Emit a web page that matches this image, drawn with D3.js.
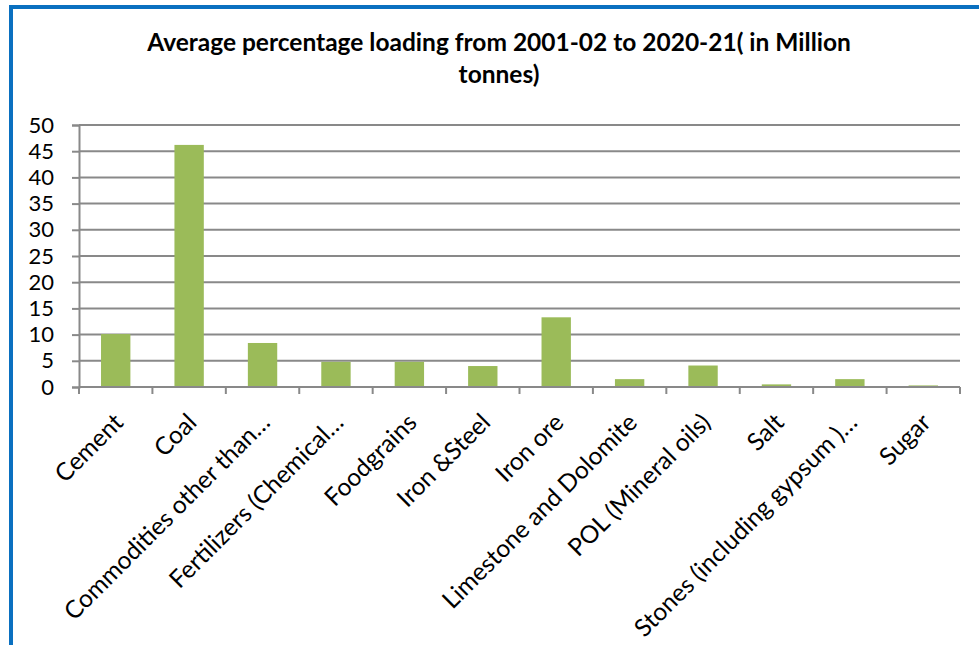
<!DOCTYPE html>
<html>
<head>
<meta charset="utf-8">
<script src="https://cdn.jsdelivr.net/npm/d3@7"></script>
<style>
  body { margin: 0; background: #fff; }
  svg { display: block; }
</style>
</head>
<body>
<svg id="chart"></svg>
<script>
// data
var categories = ["Cement", "Coal", "Commodities other than…", "Fertilizers (Chemical…",
    "Foodgrains", "Iron &Steel", "Iron ore", "Limestone and Dolomite",
    "POL (Mineral oils)", "Salt", "Stones (including gypsum )…", "Sugar"];
var values = [10.1, 46.2, 8.4, 4.8, 4.8, 4.0, 13.3, 1.5, 4.1, 0.5, 1.5, 0.3];
var yTicks = [0, 5, 10, 15, 20, 25, 30, 35, 40, 45, 50];
var titleLines = ["Average percentage loading from 2001-02 to 2020-21( in Million", "tonnes)"];

var dimensions = {
    width: 979,
    height: 645,
    margin: { top: 125, bottom: 258, left: 79, right: 19 }
};

var font = "Lato, 'Open Sans', sans-serif";

var svg = d3.select("#chart")
    .attr("width", dimensions.width)
    .attr("height", dimensions.height);

// blue frame (only top and left edges visible)
svg.append("rect")
    .attr("x", 11)
    .attr("y", 7)
    .attr("width", 1000)
    .attr("height", 700)
    .attr("fill", "none")
    .attr("stroke", "#0a70c0")
    .attr("stroke-width", 4);

var xScale = d3.scaleBand()
    .domain(categories)
    .range([dimensions.margin.left, dimensions.width - dimensions.margin.right])
    .paddingInner(0.6)
    .paddingOuter(0.3);

var band = d3.scaleBand()
    .domain(categories)
    .range([dimensions.margin.left, dimensions.width - dimensions.margin.right]);

var yScale = d3.scaleLinear()
    .domain([0, 50])
    .range([dimensions.height - dimensions.margin.bottom, dimensions.margin.top]);

// gridlines
svg.append("g")
    .selectAll("line")
    .data(yTicks.slice(1))
    .enter()
    .append("line")
    .attr("x1", dimensions.margin.left)
    .attr("x2", dimensions.width - dimensions.margin.right)
    .attr("y1", d => yScale(d))
    .attr("y2", d => yScale(d))
    .attr("stroke", "#898989")
    .attr("stroke-width", 2);

// bars
svg.selectAll("rect.bar")
    .data(values)
    .enter()
    .append("rect")
    .attr("class", "bar")
    .attr("x", (d, i) => xScale(categories[i]))
    .attr("y", d => yScale(d))
    .attr("width", xScale.bandwidth())
    .attr("height", d => yScale(0) - yScale(d))
    .attr("fill", "#9bbb59");

// y axis
var yAxis = svg.append('g')
    .call(d3.axisLeft(yScale).tickValues(yTicks).tickSize(7).tickPadding(18))
    .attr("transform", `translate(${dimensions.margin.left},0)`);
yAxis.select(".domain").attr("stroke", "#898989").attr("stroke-width", 2);
yAxis.selectAll(".tick line").attr("stroke", "#898989").attr("stroke-width", 2);
yAxis.selectAll("text")
    .style("font-family", font)
    .style("font-size", "22px")
    .attr("fill", "#000");

// x axis: ticks at band boundaries
var xg = svg.append('g')
    .attr("transform", `translate(0,${yScale(0)})`);
xg.append("line")
    .attr("x1", dimensions.margin.left)
    .attr("x2", dimensions.width - dimensions.margin.right)
    .attr("stroke", "#898989")
    .attr("stroke-width", 2);
xg.selectAll("line.tk")
    .data(categories.concat(["end"]))
    .enter()
    .append("line")
    .attr("class", "tk")
    .attr("x1", (d, i) => i < categories.length ? band(d) : band.range()[1])
    .attr("x2", (d, i) => i < categories.length ? band(d) : band.range()[1])
    .attr("y1", 0)
    .attr("y2", 7)
    .attr("stroke", "#898989")
    .attr("stroke-width", 2);

xg.selectAll("text")
    .data(categories)
    .enter()
    .append("text")
    .attr("transform", d => "translate(" + (band(d) + band.bandwidth() / 2 + 9) + ",37)rotate(-45)")
    .style("text-anchor", "end")
    .style("font-family", font)
    .style("font-size", "24.5px")
    .attr("fill", "#000")
    .text(d => d);

// title
svg.append("g")
    .selectAll("text")
    .data(titleLines)
    .enter()
    .append("text")
    .attr("x", 499)
    .attr("y", (d, i) => 51 + i * 32)
    .style("text-anchor", "middle")
    .style("font-family", font)
    .style("font-weight", "bold")
    .style("font-size", "24.5px")
    .attr("fill", "#000")
    .text(d => d);
</script>
</body>
</html>
